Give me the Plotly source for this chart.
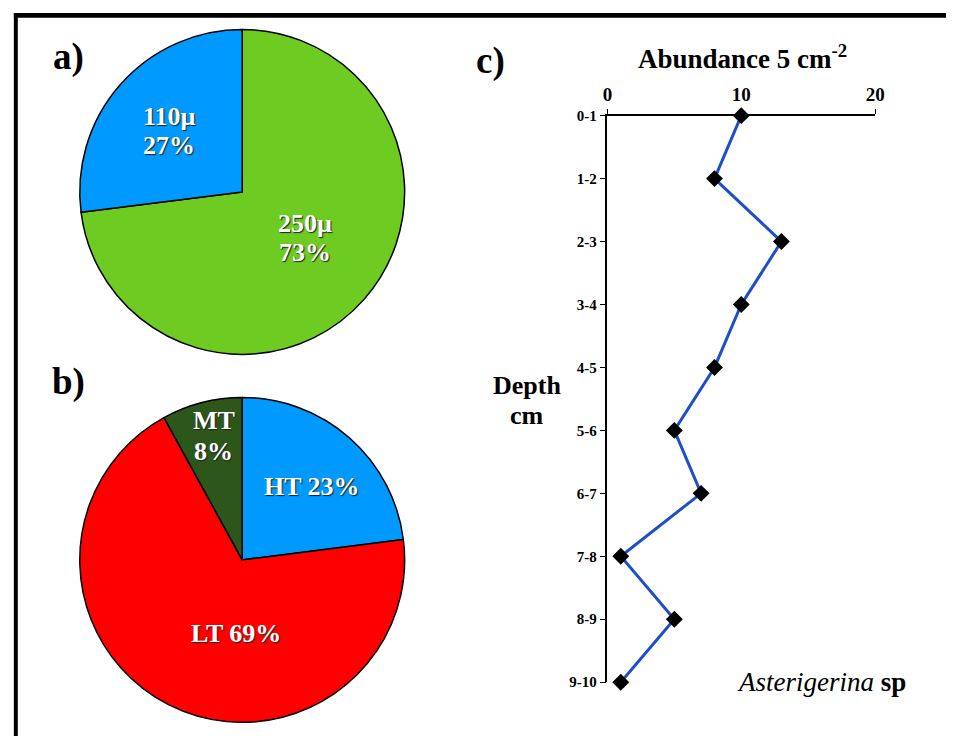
import plotly.graph_objects as go

W, H = 956, 744

# Panel a
size_labels = ["250µ", "110µ"]
size_values = [73, 27]
size_colors = ["#6DCB22", "#0099FF"]

# Panel b
temp_labels = ["HT", "LT", "MT"]
temp_values = [23, 69, 8]
temp_colors = ["#0099FF", "#FF0000", "#2D561B"]

# Panel c
depths = ["0-1", "1-2", "2-3", "3-4", "4-5", "5-6", "6-7", "7-8", "8-9", "9-10"]
abundance = [10, 8, 13, 10, 8, 5, 7, 1, 5, 1]
x_ticks = [0, 10, 20]

SERIF = "Liberation Serif"


def px(x):
    return x / W


def py(y):
    return 1 - y / H


fig = go.Figure()

fig.add_trace(go.Pie(
    labels=size_labels, values=size_values, sort=False, direction="clockwise",
    rotation=0, marker=dict(colors=size_colors, line=dict(color="black", width=1.5)),
    textinfo="none", hoverinfo="label+percent", showlegend=False,
    domain=dict(x=[px(75), px(407)], y=[py(354), py(22)]),
))

fig.add_trace(go.Pie(
    labels=temp_labels, values=temp_values, sort=False, direction="clockwise",
    rotation=0, marker=dict(colors=temp_colors, line=dict(color="black", width=1.5)),
    textinfo="none", hoverinfo="label+percent", showlegend=False,
    domain=dict(x=[px(75), px(407)], y=[py(730), py(398)]),
))

fig.add_trace(go.Scatter(
    x=abundance, y=depths, mode="lines+markers",
    line=dict(color="#1F4FC8", width=3),
    marker=dict(symbol="diamond", size=13, color="black"),
    cliponaxis=False, showlegend=False,
))

fig.update_layout(
    autosize=True, margin=dict(l=0, r=0, t=0, b=0),
    paper_bgcolor="white", plot_bgcolor="white",
    xaxis=dict(
        domain=[px(612), px(884)], range=[0, 20], side="top",
        tickvals=x_ticks, ticks="outside", ticklen=5, tickcolor="black",
        showline=True, linecolor="black", linewidth=1.5, showgrid=False, zeroline=False,
        tickfont=dict(family=SERIF, size=19, color="black", weight="bold"),
    ),
    yaxis=dict(
        domain=[py(689), py(110)], type="category", categoryorder="array",
        categoryarray=depths, range=[9, 0],
        ticks="outside", ticklen=6, tickcolor="black",
        showline=True, linecolor="black", linewidth=1.5, showgrid=False, zeroline=False,
        tickfont=dict(family=SERIF, size=15, color="black", weight="bold"),
    ),
)

pie_font = dict(family=SERIF, size=26, color="white", weight="bold",
                shadow="1px 1px 1px #222")
pie_texts = [
    ("110µ", 167, 111), ("27%", 167, 141),
    ("250µ", 305, 220), ("73%", 305, 250),
    ("MT", 212, 422), ("8%", 212, 453),
    ("HT 23%", 312, 489),
    ("LT 69%", 235, 639),
]
for t, x, y in pie_texts:
    fig.add_annotation(text=t, x=px(x), y=py(y), xref="paper", yref="paper",
                       showarrow=False, font=pie_font, xanchor="center", yanchor="middle")

panel_font = dict(family=SERIF, size=37, color="black", weight="bold")
for t, x, y in [("a)", 65, 50), ("b)", 65, 382), ("c)", 493, 54)]:
    fig.add_annotation(text=t, x=px(x), y=py(y), xref="paper", yref="paper",
                       showarrow=False, font=panel_font, xanchor="center", yanchor="middle")

lab_font = dict(family=SERIF, size=26, color="black", weight="bold")
fig.add_annotation(text="Abundance 5 cm<sup>-2</sup>", x=px(749), y=py(50), xref="paper", yref="paper",
                   showarrow=False, font=dict(family=SERIF, size=27, color="black", weight="bold"),
                   xanchor="center", yanchor="middle")
fig.add_annotation(text="Depth", x=px(530), y=py(386), xref="paper", yref="paper",
                   showarrow=False, font=lab_font, xanchor="center", yanchor="middle")
fig.add_annotation(text="cm", x=px(530), y=py(416), xref="paper", yref="paper",
                   showarrow=False, font=lab_font, xanchor="center", yanchor="middle")
fig.add_annotation(text="<i>Asterigerina</i> <b>sp</b>", x=px(830), y=py(689), xref="paper", yref="paper",
                   showarrow=False, font=dict(family=SERIF, size=27, color="black"),
                   xanchor="center", yanchor="middle")

# frame
fig.add_shape(type="rect", xref="paper", yref="paper", x0=px(9), x1=1, y0=py(10), y1=py(5),
              fillcolor="black", line_width=0, layer="above")
fig.add_shape(type="rect", xref="paper", yref="paper", x0=px(9), x1=px(13), y0=0, y1=py(5),
              fillcolor="black", line_width=0, layer="above")

fig.write_html(
    "out.html",
    config={"responsive": True, "displayModeBar": False},
    default_width="100vw", default_height="100vh",
    post_script="document.documentElement.style.margin='0';document.body.style.margin='0';"
                "document.body.style.overflow='hidden';",
)
